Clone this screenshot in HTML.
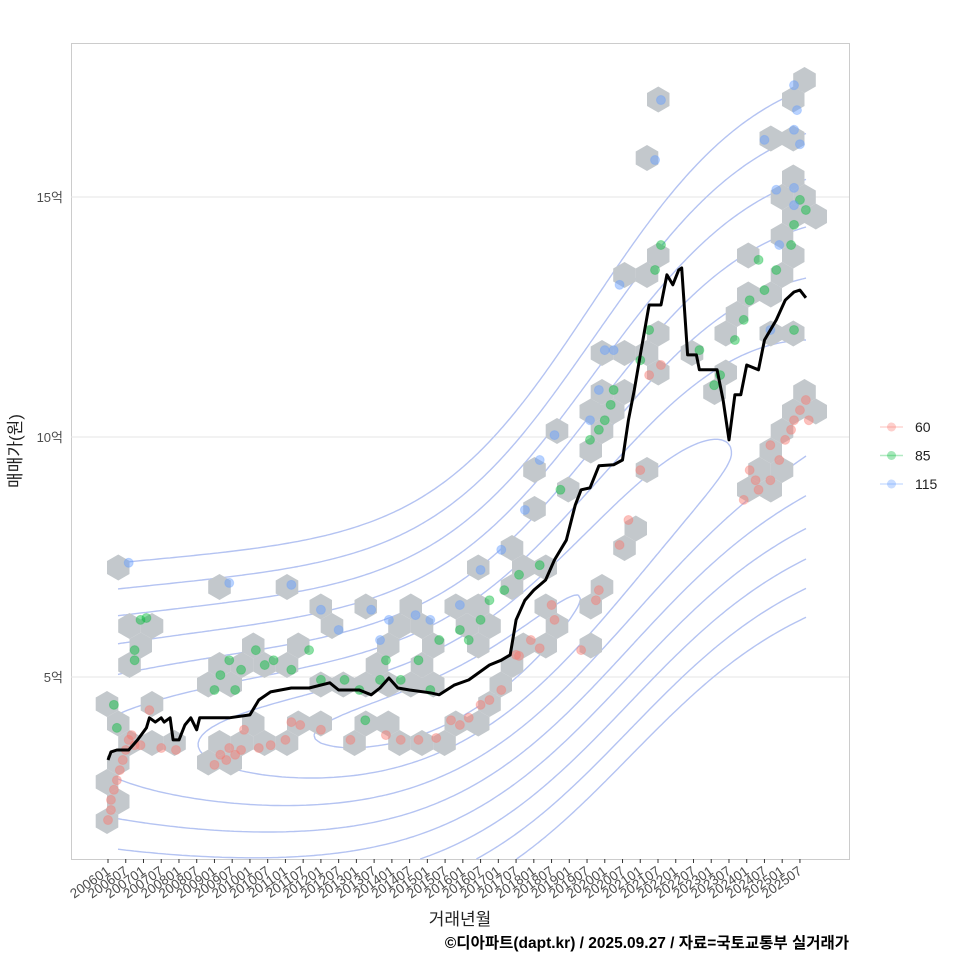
<!DOCTYPE html>
<html><head><meta charset="utf-8"><style>
body{margin:0;background:#fff}
svg{display:block;font-family:"Liberation Sans","Noto Sans CJK KR",sans-serif}
</style></head><body>
<svg id="c" width="960" height="960" viewBox="0 0 960 960">
<rect x="0" y="0" width="960" height="960" fill="#fff"/>
<g id="grid"></g><g id="contours"></g><g id="hexes"></g><g id="points"></g><g id="line"></g><g id="axes"></g>
</svg>
<script>
// months since 2006-01, values in 억
const redMonths=[0,1,1,2,3,4,5,6,7,8,9,11,14,18,23,36,38,40,41,43,46,45,51,55,60,62,65,72,82,94,99,105,111,116,119,122,126,129,133,138,139,143,146,150,151,160,165,166,173,176,180,183,187,215,217,219,220,224,224,227,229,231,232,234,236,237];
const redValues=[2.02,2.23,2.44,2.65,2.85,3.06,3.27,3.48,3.69,3.79,3.58,3.58,4.31,3.52,3.48,3.17,3.38,3.27,3.52,3.38,3.9,3.48,3.52,3.58,3.69,4.06,4.0,3.9,3.69,3.79,3.69,3.69,3.73,4.1,4.0,4.15,4.42,4.52,4.73,5.46,5.44,5.77,5.6,6.5,6.19,5.56,6.6,6.81,7.75,8.27,9.31,11.29,11.5,8.69,9.31,9.1,8.9,9.83,9.1,9.52,9.94,10.15,10.35,10.56,10.77,10.35];
const greenMonths=[2,3,9,9,11,13,36,38,41,43,45,50,53,56,62,68,72,80,85,87,92,94,99,105,109,112,119,122,126,129,134,139,146,153,163,166,168,170,171,180,183,185,187,200,205,207,212,215,217,220,222,226,231,232,234,236,232];
const greenValues=[4.42,3.94,5.35,5.56,6.19,6.23,4.73,5.04,5.35,4.73,5.15,5.56,5.25,5.35,5.15,5.56,4.94,4.94,4.73,4.1,4.94,5.35,4.94,5.35,4.73,5.77,5.98,5.77,6.19,6.6,6.81,7.13,7.33,8.9,9.94,10.15,10.35,10.67,10.98,11.6,12.23,13.48,14.0,11.81,11.08,11.29,12.02,12.44,12.85,13.69,13.06,13.48,14.0,14.42,14.94,14.73,12.23];
const blueMonths=[7,41,62,72,78,89,92,95,104,109,119,126,133,141,146,151,163,166,168,173,187,185,171,222,226,232,233,232,234,232,232,227,224];
const blueValues=[7.38,6.96,6.92,6.4,5.98,6.4,5.77,6.19,6.29,6.19,6.5,7.23,7.65,8.48,9.52,10.04,10.35,10.98,11.81,13.17,17.02,15.77,11.81,16.19,15.15,17.33,16.81,16.4,16.1,15.19,14.83,14.0,12.23];
const lineMonths=[0,1,3,7,10,13,14,16,18,19,21,22,24,26,28,30,31,34,41,48,51,55,62,68,75,78,85,89,92,95,98,102,109,112,117,122,129,133,136,138,141,144,148,151,155,158,160,163,166,171,174,176,178,180,183,187,189,191,193,194,196,199,200,206,208,210,212,214,216,220,222,226,229,232,234,236];
const lineValues=[3.27,3.44,3.48,3.48,3.69,3.94,4.15,4.06,4.15,4.06,4.15,3.69,3.69,4.0,4.15,3.9,4.15,4.15,4.15,4.21,4.52,4.69,4.77,4.77,4.88,4.73,4.73,4.63,4.77,4.98,4.77,4.73,4.67,4.63,4.83,4.94,5.25,5.35,5.46,6.19,6.6,6.81,7.02,7.44,7.85,8.58,8.9,8.94,9.4,9.42,9.52,10.35,10.98,11.71,12.75,12.75,13.38,13.17,13.48,13.52,11.71,11.71,11.4,11.4,10.77,9.94,10.88,10.88,11.5,11.4,12.02,12.44,12.85,13.02,13.06,12.9];
const yTicks=[5,10,15];
const yTickLabels=["5억","10억","15억"];
const seriesNames=["60","85","115"];
const NS="http://www.w3.org/2000/svg";
const X0=71,X1=849,Y0=43,Y1=859;
function xS(m){return 108+m*2.957;}
function yS(v){return 677-(v-5)*48;}
function mk(tag,attrs,parent){const e=document.createElementNS(NS,tag);for(const k in attrs)e.setAttribute(k,attrs[k]);parent.appendChild(e);return e;}
const grid=document.getElementById('grid');
const panel=mk('rect',{x:X0+.5,y:Y0+.5,width:X1-X0,height:Y1-Y0,fill:'#fff',stroke:'#cccccc'},grid);


yTicks.forEach((t,i)=>{
  const l=mk('line',{x1:X0,x2:X1,y1:yS(t),y2:yS(t),stroke:'#e6e6e6'},grid);
  
  
  const tx=mk('text',{x:63,y:yS(t)+5,'text-anchor':'end','font-size':13,fill:'#4d4d4d'},grid);
  tx.textContent=yTickLabels[i];
  
  
});
// density contours (smooth density surface) via marching squares
(function(){
  const g=document.getElementById('contours');
  function sig(z){return 1/(1+Math.exp(-z));}
  function trend(x){return 748-380*sig((x-620)/90);}
  function sUp(x){return 42+32*sig((x-560)/70);}
  function sDn(x){return 42+5*sig((x-560)/70);}
  function lf(x,y){const m=trend(x);const d=(y-m)/(y<m?sUp(x):sDn(x));const dx=x-430;const gx=dx<0?-dx*dx/(2*200*200):-dx*dx/(2*260*260);return -0.5*d*d+gx;}
  const st=4,xa=118,xb=806,ya=43,yb=859;
  const nx=Math.floor((xb-xa)/st)+1,ny=Math.floor((yb-ya)/st)+1;
  const F=[];for(let j=0;j<ny;j++){F[j]=[];for(let i=0;i<nx;i++)F[j][i]=lf(xa+i*st,ya+j*st);}
  for(let k=1;k<=8;k++){
    const L=-0.5*Math.pow(0.58*k,2);let d='';
    for(let j=0;j<ny-1;j++)for(let i=0;i<nx-1;i++){
      const v=[F[j][i],F[j][i+1],F[j+1][i+1],F[j+1][i]];
      const px=[xa+i*st,xa+(i+1)*st,xa+(i+1)*st,xa+i*st],py=[ya+j*st,ya+j*st,ya+(j+1)*st,ya+(j+1)*st];
      const pts=[];
      for(let e=0;e<4;e++){const a=e,b=(e+1)%4;if((v[a]>L)!==(v[b]>L)){const t=(L-v[a])/(v[b]-v[a]);pts.push([px[a]+t*(px[b]-px[a]),py[a]+t*(py[b]-py[a])]);}}
      if(pts.length>=2)d+='M'+pts[0][0].toFixed(1)+' '+pts[0][1].toFixed(1)+'L'+pts[1][0].toFixed(1)+' '+pts[1][1].toFixed(1);
      if(pts.length===4)d+='M'+pts[2][0].toFixed(1)+' '+pts[2][1].toFixed(1)+'L'+pts[3][0].toFixed(1)+' '+pts[3][1].toFixed(1);
    }
    const p=mk('path',{d:d,fill:'none',stroke:'#b4c3f2','stroke-width':1.4},g);
    
    
  }
})();
// hexbins
(function(){
  const g=document.getElementById('hexes');
  const r=13,dx=22.5,dy=19.5,ox=107,oy=821;
  const all=[];
  [[redMonths,redValues],[greenMonths,greenValues],[blueMonths,blueValues]].forEach(([m,v])=>m.forEach((mm,i)=>all.push([xS(mm),yS(v[i])])));
  const seen={};
  all.forEach(([x,y])=>{
    const j0=Math.round((y-oy)/dy);let best=null,bd=1e9;
    for(let j=j0-1;j<=j0+1;j++){const off=(Math.abs(j)%2)*dx/2;const i=Math.round((x-ox-off)/dx);const cx=ox+i*dx+off,cy=oy+j*dy;const dd=(cx-x)**2+(cy-y)**2;if(dd<bd){bd=dd;best=[cx,cy,i,j];}}
    const key=best[2]+','+best[3];if(seen[key])return;seen[key]=1;
    let pts=[];for(let a=0;a<6;a++){const an=Math.PI/180*(60*a-90);pts.push((best[0]+r*Math.cos(an)).toFixed(1)+','+(best[1]+r*Math.sin(an)).toFixed(1));}
    const h=mk('polygon',{points:pts.join(' '),fill:'#c3c8cc'},g);
    
    
  });
})();
const colors=['#f8766d','#00ba38','#619cff'];
(function(){
  const g=document.getElementById('points');
  [[redMonths,redValues],[greenMonths,greenValues],[blueMonths,blueValues]].forEach(([m,v],s)=>{
    m.forEach((mm,i)=>{
      const c=mk('circle',{cx:xS(mm),cy:yS(v[i]),r:4.5,fill:colors[s],'fill-opacity':0.45,stroke:colors[s],'stroke-opacity':0.3},g);
      
      
    });
  });
})();
(function(){
  const g=document.getElementById('line');
  let d='';lineMonths.forEach((m,i)=>{d+=(i?'L':'M')+xS(m).toFixed(1)+' '+yS(lineValues[i]).toFixed(1);});
  const p=mk('path',{d:d,fill:'none',stroke:'#000','stroke-width':3,'stroke-linejoin':'round'},g);
  
  
})();
(function(){
  const g=document.getElementById('axes');
  for(let k=0;k<40;k++){
    const m=k*6;const x=xS(m);
    const yr=2006+Math.floor(m/12),mo=(m%12)+1;
    const lab=yr+(mo<10?'0':'')+mo;
    const t=mk('line',{x1:x,x2:x,y1:Y1,y2:Y1+4,stroke:'#333'},g);
    
    
    const tx=mk('text',{x:x+3,y:Y1+14,'text-anchor':'end','font-size':13.5,fill:'#4d4d4d',transform:'rotate(-35 '+(x+3)+' '+(Y1+14)+')'},g);
    tx.textContent=lab;
    
    
  }
  const xt=mk('text',{x:460,y:925,'text-anchor':'middle','font-size':17,fill:'#222'},g);
  xt.textContent='거래년월';
  
  
  const yt=mk('text',{x:0,y:0,'text-anchor':'middle','font-size':17,fill:'#222',transform:'translate(21 451) rotate(-90)'},g);
  yt.textContent='매매가(원)';
  
  
  const cap=mk('text',{x:849,y:948,'text-anchor':'end','font-size':15.5,'font-weight':'bold',fill:'#000'},g);
  cap.textContent='©디아파트(dapt.kr) / 2025.09.27 / 자료=국토교통부 실거래가';
  
  
  seriesNames.forEach((n,i)=>{
    const y=427+i*28.5;
    const lg=mk('g',{},g);
    
    
    mk('line',{x1:880,x2:903,y1:y,y2:y,stroke:colors[i],'stroke-opacity':0.3,'stroke-width':1.5},lg);
    mk('circle',{cx:891.5,cy:y,r:4.5,fill:colors[i],'fill-opacity':0.35},lg);
    const tx=mk('text',{x:915,y:y+5,'font-size':14,fill:'#222'},lg);
    tx.textContent=n;
  });
})();
</script>
</body></html>
